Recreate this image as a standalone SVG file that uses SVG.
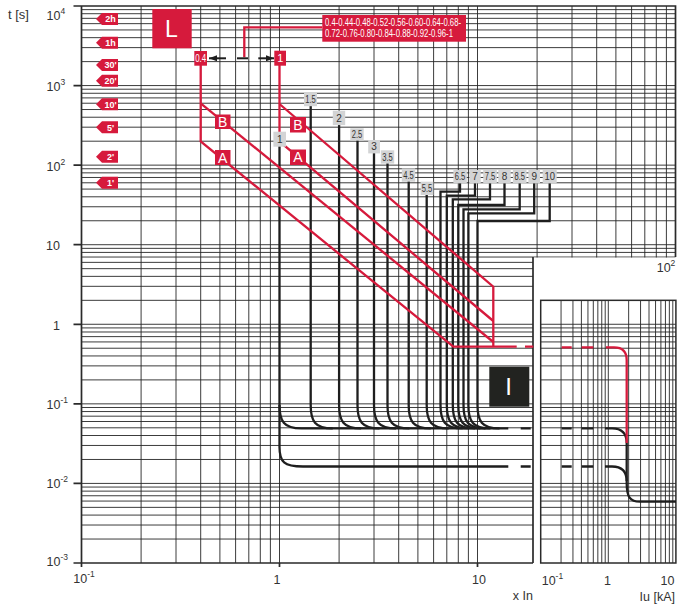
<svg xmlns="http://www.w3.org/2000/svg" width="679" height="607" viewBox="0 0 679 607">
<style>
.g{stroke:#262626;stroke-width:0.9;fill:none}
.ax{stroke:#2a2a2a;stroke-width:1.7;fill:none}
.bk{stroke:#1e1e1e;stroke-width:2.3;fill:none}
.rd{stroke:#d61a3c;stroke-width:2.3;fill:none}
.rf{fill:#d61a3c}
.t{font-family:"Liberation Sans",Arial,sans-serif;fill:#333;font-size:12.5px}
.w{font-family:"Liberation Sans",Arial,sans-serif;fill:#fff}
.tm{font-family:"Liberation Sans",Arial,sans-serif;fill:#fff;font-size:9px;font-weight:bold;text-anchor:middle}
.gl rect{fill:#d3d4d5}
.gl text{font-family:"Liberation Sans",Arial,sans-serif;fill:#333;font-size:10px;text-anchor:middle}
.ar{stroke:#1e1e1e;stroke-width:2;fill:none}
</style>
<defs>
<path id="tmk" d="M0 0L6 -6H22V6H6Z" fill="#d61a3c"/>
<marker id="ah" viewBox="0 0 8 6" refX="8" refY="3" markerWidth="8" markerHeight="6" markerUnits="userSpaceOnUse" orient="auto"><path d="M0 0L8 3L0 6Z" fill="#1e1e1e"/></marker>
</defs>
<rect width="679" height="607" fill="#fff"/>
<g id="grid">
<path class="g" d="M141.1 6V563M176 6V563M200.7 6V563M219.9 6V563M235.6 6V563M248.8 6V563M260.3 6V563M270.4 6V563M279.5 6V563M339.1 6V563M374 6V563M398.7 6V563M417.9 6V563M433.6 6V563M446.8 6V563M458.3 6V563M468.4 6V563M477.5 6V563M537.1 6V563M572 6V563M596.7 6V563M615.9 6V563M631.6 6V563M644.8 6V563M656.3 6V563M666.4 6V563"/>
<path class="g" d="M81.5 9.64H675.5M81.5 13.71H675.5M81.5 18.33H675.5M81.5 23.65H675.5M81.5 29.95H675.5M81.5 37.66H675.5M81.5 47.61H675.5M81.5 61.62H675.5M81.5 85.57H675.5M81.5 89.21H675.5M81.5 93.28H675.5M81.5 97.9H675.5M81.5 103.22H675.5M81.5 109.52H675.5M81.5 117.23H675.5M81.5 127.18H675.5M81.5 141.19H675.5M81.5 165.14H675.5M81.5 168.78H675.5M81.5 172.85H675.5M81.5 177.47H675.5M81.5 182.79H675.5M81.5 189.09H675.5M81.5 196.8H675.5M81.5 206.75H675.5M81.5 220.76H675.5M81.5 244.71H675.5M81.5 248.35H675.5M81.5 252.42H675.5M81.5 257.04H675.5M81.5 262.36H675.5M81.5 268.66H675.5M81.5 276.37H675.5M81.5 286.32H675.5M81.5 300.33H675.5M81.5 324.28H675.5M81.5 327.92H675.5M81.5 331.99H675.5M81.5 336.61H675.5M81.5 341.93H675.5M81.5 348.23H675.5M81.5 355.94H675.5M81.5 365.89H675.5M81.5 379.9H675.5M81.5 403.85H675.5M81.5 407.49H675.5M81.5 411.56H675.5M81.5 416.18H675.5M81.5 421.5H675.5M81.5 427.8H675.5M81.5 435.51H675.5M81.5 445.46H675.5M81.5 459.47H675.5M81.5 483.42H675.5M81.5 487.06H675.5M81.5 491.13H675.5M81.5 495.75H675.5M81.5 501.07H675.5M81.5 507.37H675.5M81.5 515.08H675.5M81.5 525.03H675.5M81.5 539.04H675.5"/>
<path class="ax" d="M81.5 6H675.5V257M81.5 6V563H533M73.5 6H81.5M73.5 85.57H81.5M73.5 165.14H81.5M73.5 244.71H81.5M73.5 324.28H81.5M73.5 403.85H81.5M73.5 483.42H81.5M73.5 563H81.5M81.5 563V567M279.5 563V567M477.5 563V567"/>
</g>
<g id="inset">
<rect x="533" y="257.6" width="146" height="349.4" fill="#fff"/>
<path class="ax" d="M533 257V563"/>
<path class="g" d="M561.05 300.33V563M572.95 300.33V563M581.4 300.33V563M587.95 300.33V563M593.3 300.33V563M597.83 300.33V563M601.75 300.33V563M605.21 300.33V563M608.3 300.33V563M628.65 300.33V563M640.55 300.33V563M649 300.33V563M655.55 300.33V563M660.9 300.33V563M665.43 300.33V563M669.35 300.33V563M672.81 300.33V563"/>
<path class="g" d="M540.7 324.28H675.9M540.7 327.92H675.9M540.7 331.99H675.9M540.7 336.61H675.9M540.7 341.93H675.9M540.7 348.23H675.9M540.7 355.94H675.9M540.7 365.89H675.9M540.7 379.9H675.9M540.7 403.85H675.9M540.7 407.49H675.9M540.7 411.56H675.9M540.7 416.18H675.9M540.7 421.5H675.9M540.7 427.8H675.9M540.7 435.51H675.9M540.7 445.46H675.9M540.7 459.47H675.9M540.7 483.42H675.9M540.7 487.06H675.9M540.7 491.13H675.9M540.7 495.75H675.9M540.7 501.07H675.9M540.7 507.37H675.9M540.7 515.08H675.9M540.7 525.03H675.9M540.7 539.04H675.9"/>
<rect x="540.7" y="300.33" width="135.2" height="262.67" fill="none" stroke="#2a2a2a" stroke-width="1.5"/>
</g>
<g id="connectors">
<g class="bk">
<path d="M279.5 139V447C279.5 462 284 466.5 303 466.5H508.3"/>
<path d="M279.5 405C279.5 421 283.5 428.3 301.5 428.3H508.3"/>
<path d="M310.7 99.5V405C310.7 421 314.7 428.3 332.7 428.3"/>
<path d="M339.1 118V405C339.1 421 343.1 428.3 361.1 428.3"/>
<path d="M357.5 134.5V405C357.5 421 361.5 428.3 379.5 428.3"/>
<path d="M374 146.7V405C374 421 378 428.3 396 428.3"/>
<path d="M387.5 157V405C387.5 421 391.5 428.3 409.5 428.3"/>
<path d="M408.7 175V405C408.7 421 412.7 428.3 430.7 428.3"/>
<path d="M426.7 188.3V405C426.7 421 430.7 428.3 448.7 428.3"/>
<path d="M460 176.7V191.7H440.5V405C440.5 421 444.5 428.3 462.5 428.3"/>
<path d="M475 176.7V195.7H446.8V405C446.8 421 450.8 428.3 468.8 428.3"/>
<path d="M490 176.7V199.3H452.8V405C452.8 421 456.8 428.3 474.8 428.3"/>
<path d="M504.5 176.7V205H458.3V405C458.3 421 462.3 428.3 480.3 428.3"/>
<path d="M519.7 176.7V209.3H463.5V405C463.5 421 467.5 428.3 485.5 428.3"/>
<path d="M534.2 176.7V213.3H468.4V405C468.4 421 472.4 428.3 490.4 428.3"/>
<path d="M549.7 176.7V221H477.5V405C477.5 421 481.5 428.3 499.5 428.3"/>
<path d="M520.7 428.3H530.7M520.7 466.5H530.7M561.7 428.3H571.7M581.7 428.3H593.3M561.7 466.5H571.7M581.7 466.5H593.3"/>
<path d="M605 428.3H612Q626.7 428.3 626.7 443V483C626.7 497 630 501.7 640 501.7H676"/>
<path d="M605 466.5H612Q626.7 466.5 626.7 481"/>
</g>
<g class="rd">
<path d="M200.7 65V141.5L453.3 346.7H516.7"/>
<path d="M200.7 103.3L493.3 342"/>
<path d="M279.5 65V141.5L493.3 321"/>
<path d="M279.5 104L493.3 286.7V346.7"/>
<path d="M525 346.7H533.3M561.7 347.3H571.7M581.7 347.3H593.3"/>
<path d="M606 347.3H614Q626.7 347.3 626.7 360V443"/>
<path d="M322.3 27.3H244.3V57.3"/>
</g>
<path class="ar" d="M237 58.3H248"/>
<path class="ar" d="M226 58.3H209" marker-end="url(#ah)"/>
<path class="ar" d="M258.3 58.3H274" marker-end="url(#ah)"/>
</g>
<g id="time-markers">
<use href="#tmk" x="96" y="19"/><text class="tm" x="110.5" y="22.2">2h</text>
<use href="#tmk" x="96" y="42.7"/><text class="tm" x="110.5" y="45.9">1h</text>
<use href="#tmk" x="96" y="65"/><text class="tm" x="110.5" y="68.2">30'</text>
<use href="#tmk" x="96" y="80.7"/><text class="tm" x="110.5" y="83.9">20'</text>
<use href="#tmk" x="96" y="104.3"/><text class="tm" x="110.5" y="107.5">10'</text>
<use href="#tmk" x="96" y="127.3"/><text class="tm" x="110.5" y="130.5">5'</text>
<use href="#tmk" x="96" y="156.7"/><text class="tm" x="110.5" y="159.9">2'</text>
<use href="#tmk" x="96" y="182.7"/><text class="tm" x="110.5" y="185.9">1'</text>
</g>
<g id="box-L"><rect class="rf" x="152.3" y="9" width="39.4" height="39.3"/><text class="w" x="171.5" y="37" font-size="23" text-anchor="middle">L</text></g>
<g id="box-I"><rect x="489.3" y="366.7" width="40" height="40" fill="#222320"/><text class="w" x="508.7" y="395" font-size="24" text-anchor="middle">I</text></g>
<g id="range-box"><rect class="rf" x="322.3" y="15" width="143.7" height="26.7"/>
<text class="w" x="325" y="26.3" font-size="10" textLength="136" lengthAdjust="spacingAndGlyphs">0.4-0.44-0.48-0.52-0.56-0.60-0.64-0.68-</text>
<text class="w" x="325" y="37.3" font-size="10" textLength="128" lengthAdjust="spacingAndGlyphs">0.72-0.76-0.80-0.84-0.88-0.92-0.96-1</text></g>
<g id="set-04"><rect class="rf" x="194.3" y="51" width="12.7" height="14.7"/><text class="w" x="200.7" y="61.8" font-size="10" text-anchor="middle" textLength="11" lengthAdjust="spacingAndGlyphs">0.4</text></g>
<g id="set-1"><rect class="rf" x="274.3" y="50.7" width="11.7" height="15"/><text class="w" x="280.2" y="61.8" font-size="11" text-anchor="middle">1</text></g>
<g id="curve-labels-red">
<rect class="rf" x="215" y="114.5" width="15.5" height="14.5"/><text class="w" x="222.7" y="126.6" font-size="14" text-anchor="middle">B</text>
<rect class="rf" x="215" y="150" width="15.5" height="15"/><text class="w" x="222.7" y="162.5" font-size="14" text-anchor="middle">A</text>
<rect class="rf" x="290" y="117" width="16" height="15.5"/><text class="w" x="298" y="129.6" font-size="14" text-anchor="middle">B</text>
<rect class="rf" x="290" y="149.5" width="16" height="15.5"/><text class="w" x="298" y="162.2" font-size="14" text-anchor="middle">A</text>
</g>
<g id="curve-labels" class="gl">
<rect x="273.4" y="131.7" width="12.6" height="15"/><text x="279.7" y="143">1</text>
<rect x="304" y="92.8" width="13" height="13.4"/><text x="310.5" y="103" textLength="10.5" lengthAdjust="spacingAndGlyphs">1.5</text>
<rect x="332.8" y="110.8" width="12.4" height="14.3"/><text x="339" y="121.6">2</text>
<rect x="350.3" y="128.3" width="13.4" height="12.4"/><text x="357" y="138" textLength="10.5" lengthAdjust="spacingAndGlyphs">2.5</text>
<rect x="368.2" y="140" width="11.8" height="13.4"/><text x="374" y="150.2">3</text>
<rect x="380.8" y="150.3" width="13.4" height="13.3"/><text x="387.5" y="160.5" textLength="10.5" lengthAdjust="spacingAndGlyphs">3.5</text>
<rect x="401.8" y="168.4" width="13.4" height="13.3"/><text x="408.5" y="178.5" textLength="10.5" lengthAdjust="spacingAndGlyphs">4.5</text>
<rect x="420.6" y="181.7" width="12.8" height="13.3"/><text x="427" y="191.8" textLength="10.5" lengthAdjust="spacingAndGlyphs">5.5</text>
<rect x="453.4" y="170" width="13.4" height="13.4"/><text x="460" y="180.2" textLength="10.5" lengthAdjust="spacingAndGlyphs">6.5</text>
<rect x="469.3" y="170" width="11.4" height="13.4"/><text x="475" y="180.2">7</text>
<rect x="483.2" y="170" width="13.6" height="13.4"/><text x="490" y="180.2" textLength="10.5" lengthAdjust="spacingAndGlyphs">7.5</text>
<rect x="498.3" y="170" width="12.4" height="13.4"/><text x="504.5" y="180.2">8</text>
<rect x="512.9" y="170" width="13.6" height="13.4"/><text x="519.7" y="180.2" textLength="10.5" lengthAdjust="spacingAndGlyphs">8.5</text>
<rect x="528.4" y="170" width="11.6" height="13.4"/><text x="534.2" y="180.2">9</text>
<rect x="542.7" y="170" width="14" height="13.4"/><text x="549.7" y="180.2" textLength="10.5" lengthAdjust="spacingAndGlyphs">10</text>
</g>
<g id="axis-labels" class="t">
<text x="8" y="19" font-size="13">t [s]</text>
<text x="46.5" y="19.5">10<tspan dy="-6" font-size="8.5">4</tspan></text>
<text x="46.5" y="91">10<tspan dy="-6" font-size="8.5">3</tspan></text>
<text x="46.5" y="170.5">10<tspan dy="-6" font-size="8.5">2</tspan></text>
<text x="60" y="250" text-anchor="end">10</text>
<text x="60" y="329.5" text-anchor="end">1</text>
<text x="46.5" y="408.8">10<tspan dy="-6" font-size="8.5">-1</tspan></text>
<text x="46.5" y="488.3">10<tspan dy="-6" font-size="8.5">-2</tspan></text>
<text x="46.5" y="566">10<tspan dy="-6" font-size="8.5">-3</tspan></text>
<text x="73.3" y="583">10<tspan dy="-6" font-size="8.5">-1</tspan></text>
<text x="277" y="584" text-anchor="middle">1</text>
<text x="479" y="584" text-anchor="middle">10</text>
<text x="533" y="600" text-anchor="end">x In</text>
<text x="541.7" y="585">10<tspan dy="-6" font-size="8.5">-1</tspan></text>
<text x="607.5" y="585" text-anchor="middle">1</text>
<text x="667.5" y="585" text-anchor="middle">10</text>
<text x="675" y="601" text-anchor="end">Iu [kA]</text>
<text x="656.7" y="271.7">10<tspan dy="-6" font-size="8.5">2</tspan></text>
</g>
</svg>
